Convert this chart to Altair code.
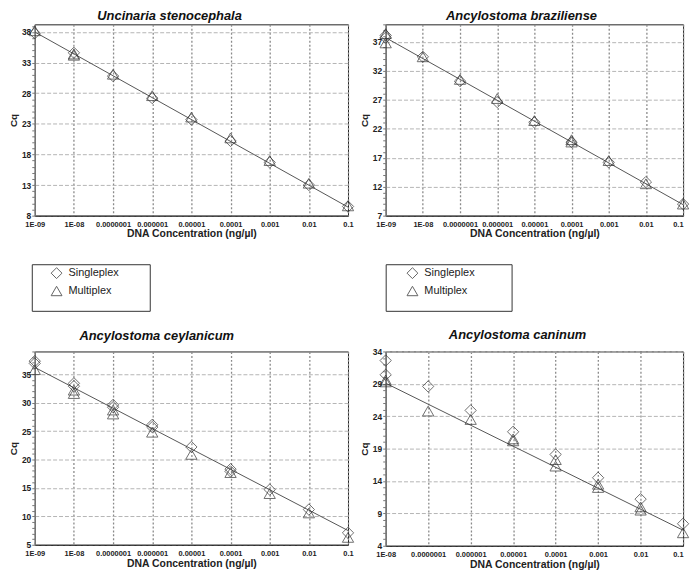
import altair as alt
import pandas as pd

FONT = "Liberation Sans"

# ---------------- data ----------------
conc_all = [1e-9, 1e-8, 1e-7, 1e-6, 1e-5, 1e-4, 1e-3, 1e-2, 1e-1]
conc_can = [1e-8, 1e-7, 1e-6, 1e-5, 1e-4, 1e-3, 1e-2, 1e-1]

titles = ["Uncinaria stenocephala", "Ancylostoma braziliense",
          "Ancylostoma ceylanicum", "Ancylostoma caninum"]

# Uncinaria stenocephala
us_single = [[37.8], [34.6], [30.8], [27.2], [23.7], [20.2], [16.7], [13.0], [9.5]]
us_multi = [[38.2], [34.4, 34.2], [31.1], [27.6], [24.1], [20.7], [17.0], [13.3], [9.6]]
us_fit = [38.0, 9.4]
us_domain = [8, 39.25]
us_ticks = [8, 13, 18, 23, 28, 33, 38]

# Ancylostoma braziliense
ab_single = [[38.1, 37.7], [34.4], [30.2], [26.6], [23.1], [19.7], [16.2], [12.8], [9.0]]
ab_multi = [[36.8, 38.4], [34.4], [30.5], [27.2], [23.4], [19.7, 20.1], [16.5], [12.5], [9.0]]
ab_fit = [37.7, 8.9]
ab_domain = [7, 40]
ab_ticks = [7, 12, 17, 22, 27, 32, 37]

# Ancylostoma ceylanicum
ac_single = [[37.3, 36.9], [33.4, 32.9], [29.6, 29.2], [26.1, 25.7], [22.2], [18.3, 17.9], [14.7], [11.2], [7.1]]
ac_multi = [[35.8], [31.6, 32.2], [28.0, 28.7], [24.8], [20.9], [17.7], [14.0], [10.6], [6.3]]
ac_fit = [36.2, 7.5]
ac_domain = [5, 39]
ac_ticks = [5, 10, 15, 20, 25, 30, 35]

# Ancylostoma caninum
an_single = [[32.6, 30.4], [28.6], [24.9], [21.6], [18.1], [14.5], [11.2], [7.4]]
an_multi = [[29.3, 29.6], [24.8], [23.5], [20.2, 20.5], [16.3, 17.3], [13.0, 13.5], [9.5, 10.0], [6.0]]
an_fit = [29.1, 6.4]
an_domain = [4, 34]
an_ticks = [4, 9, 14, 19, 24, 29, 34]

assays = ["Singleplex", "Multiplex"]
x_title = "DNA Concentration (ng/\u00b5l)"

X_LABELS = ("datum.value < 5e-9 ? '1E-09' : datum.value < 5e-8 ? '1E-08' : "
            "format(datum.value, '.7~f')")


def panel(title, xs, single, multi, fit, ydomain, yticks, w, h,
          legend_pos, title_dx, title_offset, right_panel):
    rows = []
    for x, vals in zip(xs, single):
        for v in vals:
            rows.append({"conc": x, "cq": v, "assay": assays[0]})
    for x, vals in zip(xs, multi):
        for v in vals:
            rows.append({"conc": x, "cq": v, "assay": assays[1]})
    pts = pd.DataFrame(rows)
    line_df = pd.DataFrame({"conc": [xs[0], xs[-1]], "cq": fit})
    minor_df = pd.DataFrame({"cq": ydomain})
    minor_vals = list(range(int(ydomain[0]), int(ydomain[1]) + 1))

    xscale = alt.Scale(type="log", domain=[xs[0], xs[-1]], nice=False)
    yscale = alt.Scale(domain=ydomain, nice=False, zero=False)

    extra = {}
    if right_panel:
        extra["labelAlign"] = {"condition": {"test": "datum.value > 0.05", "value": "right"},
                               "value": "center"}
    xaxis = alt.Axis(values=xs, labelExpr=X_LABELS, title=x_title,
                     grid=True, gridDash=[2, 2], gridColor="#8a8a8a", gridWidth=1.3,
                     ticks=False, domain=True, domainColor="#222",
                     labelFont=FONT, labelFontSize=7.5, labelFontWeight="bold",
                     labelColor="#222", labelPadding=5, labelFlush=False,
                     labelOverlap=False, labelBound=False,
                     titleFont=FONT, titleFontSize=10.5, titleFontWeight="bold",
                     titleColor="#222", titlePadding=1, **extra)
    yaxis = alt.Axis(values=yticks, title="Cq", grid=True, gridDash=[4, 2],
                     gridColor="#b4b4b4", gridWidth=1, ticks=False,
                     domain=True, domainColor="#777", domainWidth=1.2,
                     labelFont=FONT, labelFontSize=8.5, labelFontWeight="bold",
                     labelColor="#222", labelPadding=4, labelFlush=False,
                     titleFont=FONT, titleFontSize=10, titleFontWeight="bold",
                     titleColor="#222", titlePadding=3, orient="left")

    line = alt.Chart(line_df).mark_line(color="#555", strokeWidth=1).encode(
        x=alt.X("conc:Q", scale=xscale, axis=xaxis),
        y=alt.Y("cq:Q", scale=yscale, axis=yaxis),
    )

    if legend_pos is not None:
        lx, ly, sym_off, n_m = legend_pos
        legend = alt.Legend(
            title="M" * n_m, titleOrient="bottom", titleFontSize=5,
            titlePadding=5, titleOpacity=0, titleLimit=400,
            orient="none", legendX=lx, legendY=ly,
            strokeColor="#333", fillColor="white", padding=3, cornerRadius=0,
            symbolOffset=sym_off, symbolSize=120, symbolStrokeColor="#222",
            symbolStrokeWidth=1, symbolFillColor="white", symbolType="diamond",
            labelFont=FONT, labelFontSize=11, labelColor="#222",
            labelOffset=6, rowPadding=3)
    else:
        legend = None

    points = alt.Chart(pts).mark_point(filled=False, size=130, color="#333",
                                       strokeWidth=1).encode(
        x=alt.X("conc:Q", scale=xscale, axis=xaxis),
        y=alt.Y("cq:Q", scale=yscale, axis=None),
        shape=alt.Shape("assay:N",
                        scale=alt.Scale(domain=assays, range=["diamond", "triangle-up"]),
                        legend=legend),
    )

    minor = alt.Chart(minor_df).mark_point(opacity=0).encode(
        y=alt.Y("cq:Q", scale=yscale,
                axis=alt.Axis(values=minor_vals, labels=False, grid=False,
                              domain=False, ticks=True, tickSize=3,
                              tickColor="#777", tickWidth=1, title=None,
                              orient="left")),
    )

    return alt.layer(line, points, minor).resolve_axis(y="independent").properties(
        width=w, height=h,
        title=alt.TitleParams(title, font=FONT, fontSize=13, fontWeight="bold",
                              fontStyle="italic", color="#111", anchor="middle",
                              dx=title_dx, offset=title_offset),
    )


p1 = panel(titles[0], conc_all, us_single, us_multi, us_fit, us_domain, us_ticks,
           316, 193, (-3, 242, 16, 27), -22, -1, False)
p2 = panel(titles[1], conc_all, ab_single, ab_multi, ab_fit, ab_domain, ab_ticks,
           300, 193, (0, 242, 18, 29), -13, -1, True)
p3 = panel(titles[2], conc_all, ac_single, ac_multi, ac_fit, ac_domain, ac_ticks,
           316, 195, None, -35, 6, False)
p4 = panel(titles[3], conc_can, an_single, an_multi, an_fit, an_domain, an_ticks,
           300, 196, None, -17, 6, True)

chart = alt.concat(p1, p2, p3, p4, columns=2,
                   spacing={"row": 137, "column": 38},
                   bounds="flush").resolve_scale(
    shape="independent"
).properties(
    padding={"left": 0, "top": -2, "right": 0, "bottom": 0},
    background="white",
).configure_view(stroke="#222", strokeWidth=1)

chart.save("out.html", embed_options={"renderer": "svg", "actions": False})
